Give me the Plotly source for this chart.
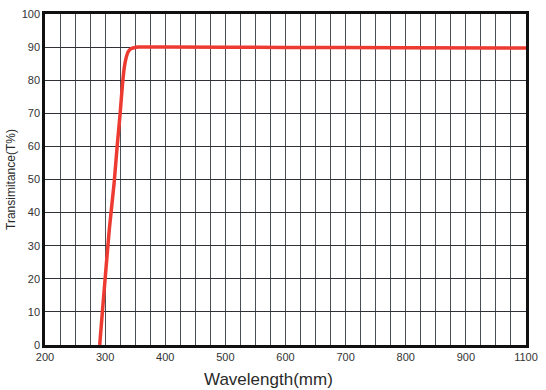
import plotly.graph_objects as go

wavelength = [291, 295, 300, 307, 315, 320, 325, 329, 332, 335, 338, 342, 348, 355, 400, 600, 800, 1000]
transmittance = [0, 9, 20, 35, 49, 60, 70, 79, 84, 86.8, 88.5, 89.4, 89.8, 90, 90, 89.9, 89.8, 89.7]

x_tick_vals = list(range(200, 1001, 25))
x_tick_labels = {200: "200", 300: "300", 400: "400", 500: "500", 600: "600",
                 700: "700", 800: "800", 900: "900", 1000: "1100"}
y_tick_vals = list(range(0, 101, 10))

fig = go.Figure()
fig.add_trace(go.Scatter(
    x=wavelength, y=transmittance, mode="lines",
    line=dict(color="#ee3b32", width=3.5, shape="spline", smoothing=0.6),
    showlegend=False, hoverinfo="skip"))

fig.update_layout(
    width=546, height=390,
    margin=dict(l=45, r=14, t=8, b=45),
    paper_bgcolor="white", plot_bgcolor="white",
    font=dict(family="Liberation Sans, Arial, sans-serif", color="#2a2a2a"),
    xaxis=dict(
        range=[200, 1000],
        tickmode="array", tickvals=x_tick_vals,
        ticktext=[x_tick_labels.get(v, "") for v in x_tick_vals],
        showgrid=True, gridcolor="#4a4f55", gridwidth=1,
        showline=True, linecolor="#111", linewidth=2.5, mirror=True,
        ticks="", tickfont=dict(size=11, color="#333"),
        zeroline=False,
    ),
    yaxis=dict(
        range=[0, 100],
        tickmode="array", tickvals=y_tick_vals,
        showgrid=True, gridcolor="#2e3236", gridwidth=1,
        showline=True, linecolor="#111", linewidth=2.5, mirror=True,
        ticks="", tickfont=dict(size=11, color="#333"),
        title=dict(text="Transimitance(T%)", font=dict(size=12, color="#2a2a2a"), standoff=4),
        zeroline=False,
    ),
    annotations=[dict(
        text="Wavelength(mm)", xref="paper", yref="paper",
        x=0.464, y=-0.104, yanchor="middle", showarrow=False,
        font=dict(size=17, color="#2a2a2a"))],
)

fig.write_html("out.html", config={"displayModeBar": False},
               post_script="document.body.style.margin='0';document.body.style.overflow='hidden';")
